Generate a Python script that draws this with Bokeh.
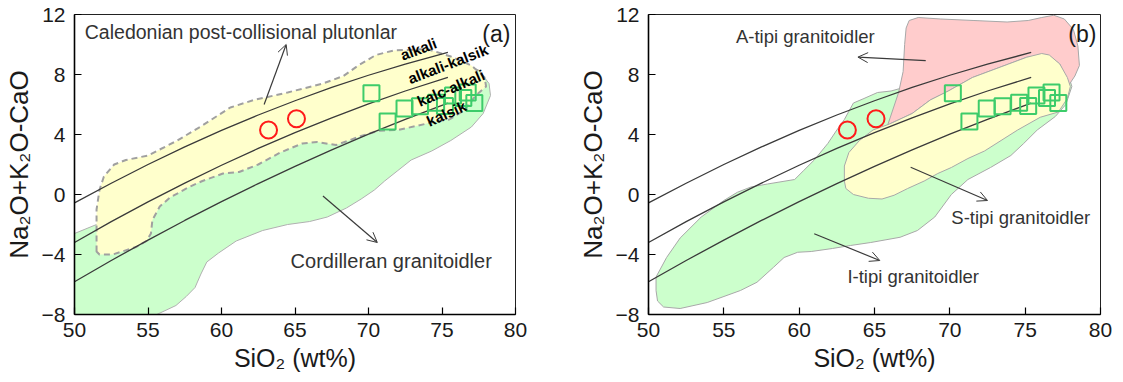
from bokeh.plotting import figure
from bokeh.layouts import row
from bokeh.models import Range1d, Arrow, OpenHead, Label, FixedTicker
from bokeh.embed import file_html
from bokeh.resources import INLINE

# ---------------- data ----------------
x_ticks = [50, 55, 60, 65, 70, 75, 80]
y_ticks = [-8, -4, 0, 4, 8, 12]

# MALI boundary curves (SiO2 vs Na2O+K2O-CaO)
boundary_sio2 = [50, 52.5, 55, 57.5, 60, 62.5, 65, 67.5, 70, 72.5, 75.4]
alkalic_y = [-0.56, 0.75, 2.0, 3.17, 4.27, 5.30, 6.25, 7.14, 7.95, 8.69, 9.47]
alkali_calcic_y = [-3.20, -1.81, -0.49, 0.76, 1.95, 3.07, 4.12, 5.11, 6.04, 6.90, 7.81]
calcic_y = [-5.82, -4.40, -3.04, -1.73, -0.47, 0.73, 1.88, 2.98, 4.02, 5.01, 6.09]

# samples
circle_sio2 = [63.2, 65.1]
circle_mali = [4.3, 5.05]
square_sio2 = [70.2, 71.3, 72.45, 73.5, 74.6, 75.2, 75.75, 76.45, 76.75, 77.2]
square_mali = [6.75, 4.87, 5.73, 5.88, 6.12, 5.9, 6.6, 6.43, 6.8, 6.1]

# (a) Cordilleran granitoids field
cord_x = [50, 50, 51.5, 56, 62, 70, 75, 77.5, 78.2, 78.3, 77.8, 77.0, 75.6, 74.3, 72.9,
          72.0, 71.1, 70.4, 69.5, 68.5, 67.2, 66.0, 64.5, 62.8, 61.0, 59.8, 59.0, 58.6,
          58.2, 57.6, 56.9, 55.6]
cord_y = [-8, -2.6, -2.0, 1.5, 5.0, 8.5, 9.3, 8.3, 7.4, 6.6, 5.4, 4.5, 3.6, 2.9, 2.3,
          1.6, 0.9, 0.3, -0.3, -0.9, -1.5, -1.8, -2.0, -2.4, -3.1, -3.9, -4.5, -5.3,
          -6.2, -6.8, -7.4, -8]

# (a) Caledonian post-collisional plutons field
cal_x = [51.5, 51.5, 51.5, 51.7, 52.0, 52.7, 53.5, 55.0, 57.0, 58.7, 60.6, 62.2, 64.5,
         66.9, 68.3, 69.3, 70.5, 71.7, 74.0, 75.6, 77.0, 77.9, 78.0, 77.3, 76.5, 75.5,
         74.7, 73.4, 72.0, 70.7, 69.5, 67.8, 66.5, 65.5, 64.0, 62.5, 61.2, 60.1, 58.7,
         57.8, 56.5, 55.8, 55.3, 55.2, 54.9, 54.2, 52.6, 51.7]
cal_y = [-3.8, -2.6, -1.0, 0.3, 1.2, 2.0, 2.3, 2.6, 3.6, 4.6, 5.8, 6.3, 6.8,
         7.4, 7.9, 8.6, 9.3, 9.6, 9.7, 9.2, 8.6, 7.8, 7.2, 6.6, 5.6, 5.0,
         4.9, 4.6, 4.3, 4.25, 3.9, 3.3, 3.5, 3.4, 2.8, 2.0, 1.5, 1.4, 0.9,
         0.5, -0.2, -0.8, -1.7, -2.6, -3.1, -3.5, -4.0, -4.0]

# (b) I-type field
i_x = [50.5, 50.5, 51.2, 52.1, 53.5, 55.0, 55.9, 56.8, 57.9, 59.7, 60.3, 61.0, 61.9,
       62.5, 63.0, 63.6, 64.3, 65.2, 66.1, 70.0, 74.0, 76.5, 77.8, 78.1, 77.7, 77.0,
       75.8, 74.9, 74.05, 72.7, 71.2, 70.1, 69.0, 67.85, 66.7, 64.75, 63.4, 62.2,
       60.8, 59.9, 59.0, 58.3, 57.2, 56.1, 53.9, 52.1, 51.0, 50.6]
i_y = [-6.4, -5.5, -4.2, -2.9, -1.5, -0.4, 0.15, 0.5, 0.7, 1.0, 1.6, 2.3, 3.4,
       4.3, 5.0, 6.1, 6.4, 6.8, 6.9, 8.0, 9.0, 9.2, 8.2, 7.2, 6.0, 5.2,
       4.3, 3.4, 2.6, 1.8, 1.0, 0.0, -1.5, -2.4, -2.85, -3.2, -3.4, -3.6,
       -3.8, -3.85, -4.2, -4.85, -5.85, -6.4, -7.2, -7.6, -7.5, -7.1]

# (b) S-type field
s_x = [63.0, 63.0, 63.3, 64.0, 64.9, 66.0, 67.5, 68.7, 69.9, 71.5, 73.9, 75.1, 76.1,
       76.6, 77.3, 77.8, 78.0, 77.8, 77.2, 76.0, 74.5, 73.4, 72.3, 71.2, 70.1, 69.2,
       68.3, 67.2, 66.3, 65.5, 64.6, 63.6, 63.1]
s_y = [0.9, 1.9, 2.8, 3.6, 4.3, 4.7, 5.4, 6.3, 6.9, 7.8, 8.7, 9.15, 9.4,
       9.3, 8.7, 7.8, 7.2, 6.4, 5.5, 5.15, 4.3, 3.6, 2.9, 2.4, 1.8, 1.4,
       0.9, 0.4, -0.05, -0.3, -0.25, 0.0, 0.4]

# (b) A-type field
a_x = [65.8, 66.1, 66.6, 66.9, 67.0, 67.1, 67.3, 67.9, 69.4, 71.6, 73.8, 75.2, 76.1,
       76.9, 77.6, 78.2, 78.5, 78.6, 78.3, 77.9, 77.3, 76.5, 75.1, 73.9, 71.5, 69.9,
       68.7, 67.5, 66.0]
a_y = [4.4, 5.3, 6.8, 8.2, 10.0, 11.1, 11.6, 11.8, 11.7, 11.6, 11.5, 11.6, 11.8,
       11.95, 11.7, 11.0, 9.9, 8.6, 7.9, 7.3, 8.7, 9.3, 9.15, 8.7, 7.8, 6.9,
       6.3, 5.4, 4.7]

FONT = "Liberation Sans"
LINE = "#3a3a3a"
TXT = "#333333"


def make_fig(width, left, right):
    p = figure(width=width, height=382, output_backend="svg", toolbar_location=None,
               x_range=Range1d(50, 80), y_range=Range1d(-8, 12),
               min_border_left=left, min_border_right=right,
               min_border_top=14, min_border_bottom=68)
    p.grid.visible = False
    p.background_fill_color = "white"
    p.border_fill_color = "white"
    p.outline_line_color = "#222222"
    p.outline_line_width = 1
    p.xaxis.ticker = FixedTicker(ticks=x_ticks)
    p.yaxis.ticker = FixedTicker(ticks=y_ticks)
    for ax in (p.xaxis[0], p.yaxis[0]):
        ax.major_tick_in = 7
        ax.major_tick_out = 0
        ax.minor_tick_line_color = None
        ax.axis_line_width = 1.6
        ax.axis_line_color = "black"
        ax.major_tick_line_color = "black"
        ax.major_tick_line_width = 1.2
        ax.major_label_text_font = FONT
        ax.major_label_text_font_size = "21px"
        ax.major_label_text_color = "#1a1a1a"
        ax.axis_label_text_font = FONT
        ax.axis_label_text_font_style = "normal"
        ax.axis_label_text_color = "#1a1a1a"
    p.xaxis.axis_label = "SiO₂ (wt%)"
    p.xaxis.axis_label_text_font_size = "25px"
    p.xaxis.major_label_standoff = 8
    p.xaxis.axis_label_standoff = 4
    p.yaxis.axis_label = "Na₂O+K₂O-CaO"
    p.yaxis.axis_label_text_font_size = "26px"
    p.yaxis.major_label_standoff = 9
    p.yaxis.axis_label_standoff = 5
    return p


def add_lines(p):
    p.line(boundary_sio2, alkalic_y, line_color=LINE, line_width=1.3)
    p.line(boundary_sio2, alkali_calcic_y, line_color=LINE, line_width=1.3)
    p.line(boundary_sio2, calcic_y, line_color=LINE, line_width=1.3)


def add_samples(p):
    p.scatter(circle_sio2, circle_mali, marker="circle", size=17, fill_color=None,
              line_color="#ff1a1a", line_width=2)
    p.scatter(square_sio2, square_mali, marker="square", size=16, fill_color=None,
              line_color="#3dcc6a", line_width=2)


def arrow(p, x0, y0, x1, y1):
    p.add_layout(Arrow(end=OpenHead(size=10, line_color=LINE, line_width=1),
                       x_start=x0, y_start=y0, x_end=x1, y_end=y1,
                       line_color=LINE, line_width=1.2))


def label(p, x, y, text, size, align="left", angle=0, style="normal", color=TXT):
    p.add_layout(Label(x=x, y=y, text=text, text_font=FONT, text_font_size=size,
                       text_align=align, text_baseline="middle", angle=angle,
                       angle_units="deg", text_font_style=style, text_color=color))


# ---------------- panel (a) ----------------
pa = make_fig(560, 71, 45)
pa.patch(cord_x, cord_y, fill_color="#ccffcc", line_color="#b0b0b0", line_width=1)
pa.patch(cal_x, cal_y, fill_color="#ffffcc", line_color="#a0a0a0", line_width=2,
         line_dash="6 4")
add_lines(pa)
add_samples(pa)
label(pa, 50.7, 10.82, "Caledonian post-collisional plutonlar", "19.5px")
label(pa, 64.7, -4.4, "Cordilleran granitoidler", "20px")
label(pa, 78.7, 10.7, "(a)", "23px", align="center", color="#1a1a1a")
arrow(pa, 62.9, 6.0, 64.4, 10.0)
arrow(pa, 66.9, -0.1, 70.6, -3.2)
label(pa, 73.4, 9.7, "alkali", "15px", align="center", angle=21, style="bold", color="black")
label(pa, 75.4, 8.7, "alkali-kalsik", "15px", align="center", angle=21, style="bold", color="black")
label(pa, 75.6, 7.1, "kalc-alkali", "15px", align="center", angle=23, style="bold", color="black")
label(pa, 75.3, 5.4, "kalsik", "15px", align="center", angle=24, style="bold", color="black")

# ---------------- panel (b) ----------------
pb = make_fig(563, 88, 23)
pb.patch(i_x, i_y, fill_color="#ccffcc", line_color="#a8a8a8", line_width=1)
pb.patch(a_x, a_y, fill_color="#ffcccc", line_color="#a8a8a8", line_width=1)
pb.patch(s_x, s_y, fill_color="#ffffcc", line_color="#a8a8a8", line_width=1)
add_lines(pb)
add_samples(pb)
label(pb, 55.8, 10.56, "A-tipi granitoidler", "18.5px")
label(pb, 70.1, -1.5, "S-tipi granitoidler", "18.5px")
label(pb, 63.2, -5.47, "I-tipi granitoidler", "18.5px")
label(pb, 78.8, 10.7, "(b)", "23px", align="center", color="#1a1a1a")
arrow(pb, 68.4, 8.93, 63.9, 9.16)
arrow(pb, 67.4, 1.82, 72.5, -0.4)
arrow(pb, 61.0, -2.62, 65.35, -4.4)

layout = row(pa, pb)
open("out.html", "w").write(file_html(layout, INLINE))
